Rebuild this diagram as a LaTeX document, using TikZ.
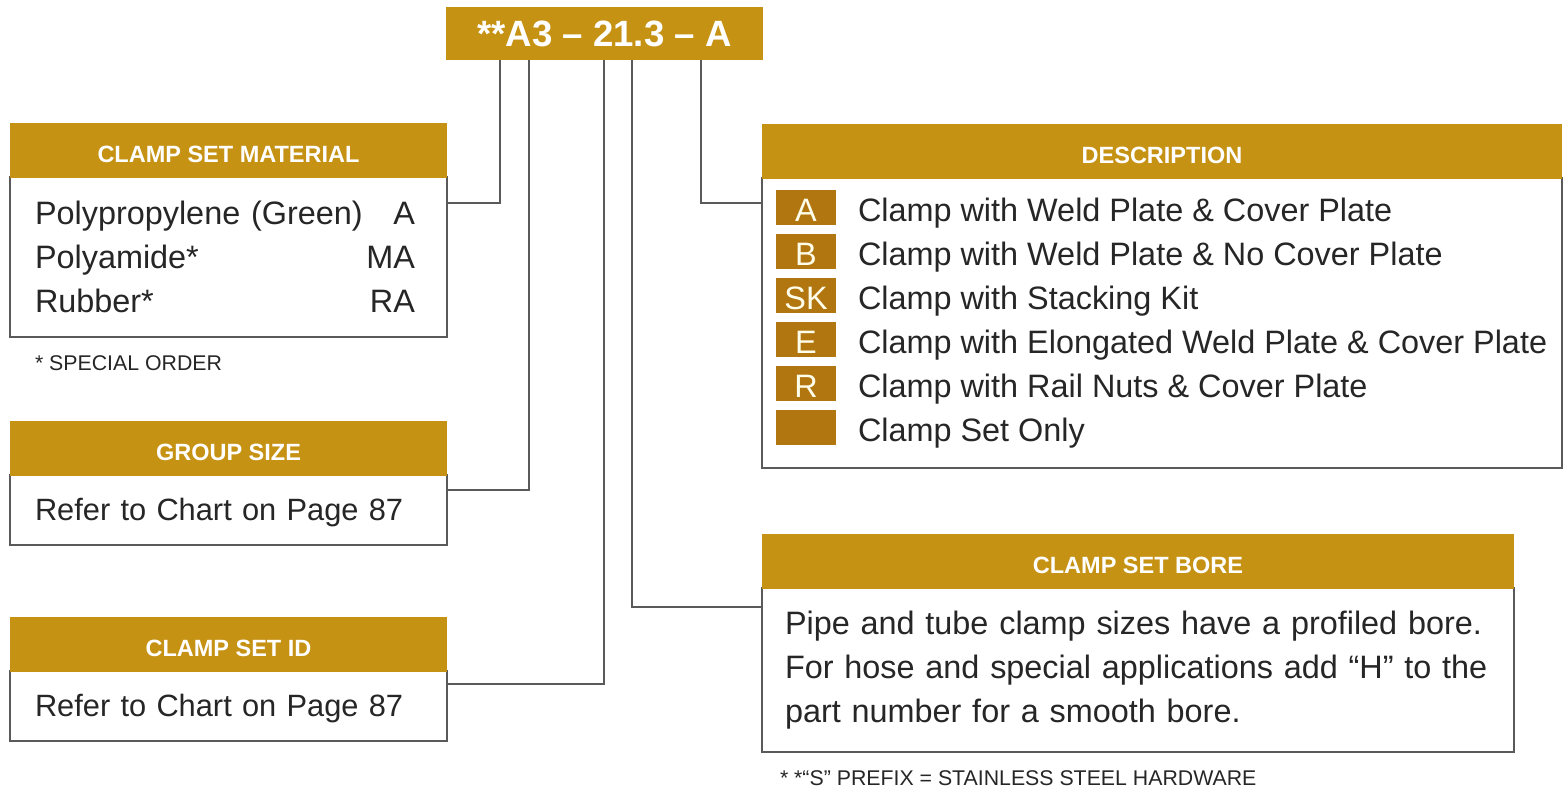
\documentclass[tikz,border=0pt]{standalone}
\usepackage{fontspec}
\setmainfont{Liberation Sans}
\usetikzlibrary{positioning}
\definecolor{gold}{RGB}{198,146,20}
\definecolor{badgebrown}{RGB}{178,118,16}
\definecolor{lineGray}{RGB}{90,90,90}
\tikzset{
x=1pt, y=-1pt, % one unit is one pixel of the layout, y runs down
every node/.style={inner sep=0pt, outer sep=0pt},
codebox/.style={fill=gold, text=white, font=\fontsize{36.6}{40}\selectfont\bfseries, minimum width=317pt, minimum height=53pt},
hdr/.style={fill=gold, text=white, font=\fontsize{23.5}{26}\selectfont\bfseries, minimum height=55pt, text height=23pt, text depth=0pt},
body/.style={draw=lineGray, line width=1.6pt, fill=white, inner xsep=25pt, text width=387pt, align=left, font=\fontsize{32.4}{44}\selectfont, text=black!85},
badge/.style={fill=badgebrown, text=white!92!yellow, minimum width=60pt, minimum height=35pt, text height=31pt, text depth=2pt, font=\fontsize{32.4}{40}\selectfont},
item/.style={text height=31pt, text depth=2pt, font=\fontsize{32.4}{40}\selectfont, text=black!85},
note/.style={font=\fontsize{21.3}{24}\selectfont, text=black!85},
link/.style={draw=lineGray, line width=1.8pt}
}

\begin{document}
\begin{tikzpicture}
\useasboundingbox (0,0) rectangle (1563,793);

% part number
\node[codebox] (code) at (604.5,33.5) {**A3 – 21.3 – A};

% left column
\node[body, minimum width=437pt, minimum height=160pt] (matBody) at (228.5,257)
  {\raisebox{-3pt}[\height][\depth]{\begin{tabular*}{380pt}{@{}l@{\extracolsep{\fill}}r@{}}
   Polypropylene (Green) & A\\
   Polyamide* & MA\\
   Rubber* & RA
   \end{tabular*}}};
\node[hdr, minimum width=437pt, above=-1pt of matBody] (matHdr) {CLAMP SET MATERIAL};
\node[note, anchor=west] (special) at (35,363) {* SPECIAL ORDER};

\node[body, minimum width=437pt, minimum height=70pt, font=\fontsize{30.8}{40}\selectfont] (grpBody) at (228.5,510)
  {\raisebox{-3pt}[\height][\depth]{Refer to Chart on Page 87}};
\node[hdr, minimum width=437pt, above=-1pt of grpBody] (grpHdr) {GROUP SIZE};

\node[body, minimum width=437pt, minimum height=70pt, font=\fontsize{30.8}{40}\selectfont] (idBody) at (228.5,706)
  {\raisebox{-3pt}[\height][\depth]{Refer to Chart on Page 87}};
\node[hdr, minimum width=437pt, above=-1pt of idBody] (idHdr) {CLAMP SET ID};

% right column
\node[body, minimum width=800pt, minimum height=290pt] (descBody) at (1162,323) {};
\node[hdr, minimum width=800pt, above=-1pt of descBody] (descHdr) {DESCRIPTION};
\node[badge] (bA) at (806,207) {A};
\node[badge, below=9pt of bA] (bB) {B};
\node[badge, below=9pt of bB] (bSK) {SK};
\node[badge, below=9pt of bSK] (bE) {E};
\node[badge, below=9pt of bE] (bR) {R};
\node[badge, below=9pt of bR] (bNone) {};
\node[item, right=22pt of bA] (tA) {Clamp with Weld Plate \& Cover Plate};
\node[item, right=22pt of bB] (tB) {Clamp with Weld Plate \& No Cover Plate};
\node[item, right=22pt of bSK] (tSK) {Clamp with Stacking Kit};
\node[item, right=22pt of bE] (tE) {Clamp with Elongated Weld Plate \& Cover Plate};
\node[item, right=22pt of bR] (tR) {Clamp with Rail Nuts \& Cover Plate};
\node[item, right=22pt of bNone] (tNone) {Clamp Set Only};

\node[body, minimum width=752pt, minimum height=164pt, text width=706pt, inner xsep=23pt] (boreBody) at (1138,670)
  {Pipe and tube clamp sizes have a profiled bore.\\
   For hose and special applications add “H” to the\\
   part number for a smooth bore.};
\node[hdr, minimum width=752pt, above=-1pt of boreBody] (boreHdr) {CLAMP SET BORE};
\node[note, anchor=west] (prefix) at (780,778) {* *“S” PREFIX = STAINLESS STEEL HARDWARE};

% leaders from the part number
\coordinate (pMat) at (500,60);
\coordinate (pGrp) at (529,60);
\coordinate (pId) at (604,60);
\coordinate (pBore) at (632,60);
\coordinate (pDesc) at (701,60);
\coordinate (matIn) at (447,203);
\coordinate (grpIn) at (447,490);
\coordinate (idIn) at (447,684);
\coordinate (boreIn) at (762,607);
\coordinate (descIn) at (762,203);
\draw[link] (pMat) |- (matIn);
\draw[link] (pGrp) |- (grpIn);
\draw[link] (pId) |- (idIn);
\draw[link] (pBore) |- (boreIn);
\draw[link] (pDesc) |- (descIn);
\end{tikzpicture}
\end{document}
